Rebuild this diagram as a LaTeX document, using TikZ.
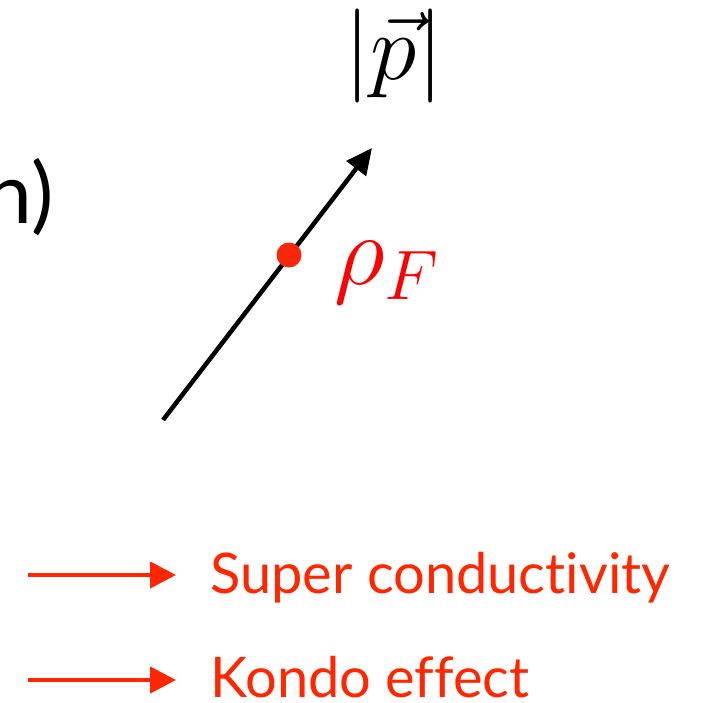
\RequirePackage{fix-cm}
\documentclass[tikz,border=0pt]{standalone}
\usepackage{fontspec}
\setsansfont[Ligatures=NoCommon]{Lato}
\usetikzlibrary{arrows.meta}
\definecolor{myred}{RGB}{255,38,0}
\definecolor{dotred}{RGB}{250,40,10}
\begin{document}
\begin{tikzpicture}[x=1pt,y=-1pt,
  lbl/.style={font=\sffamily\fontsize{56}{60}\selectfont, text=myred, anchor=base west, inner sep=0pt},
  redarrow/.style={draw=myred, line width=4.5pt, -{Triangle[length=26pt,width=26pt]}},
  blkarrow/.style={draw=black, line width=4.5pt, -{Triangle[length=26pt,width=24pt]}}]
\useasboundingbox (0,0) rectangle (703,703);
% partial label
\node[font=\sffamily\fontsize{84}{90}\selectfont, anchor=base east, inner sep=0pt] (nlbl) at (54,223) {n)};
% |p|
\node[font=\fontsize{94}{100}\selectfont, anchor=base, inner sep=0pt] (pabs) at (394,80) {$|\vec{p}|$};
% momentum arrow
\coordinate (s) at (163,420);
\coordinate (e) at (372,148);
\draw[blkarrow] (s) -- (e);
\node[circle, fill=dotred, inner sep=0pt, minimum size=25pt] (dot) at (289,255) {};
\node[font=\fontsize{100}{104}\selectfont, text=red, anchor=base west, inner sep=0pt] (rho) at (334,284) {$\rho_F$};
% consequences
\coordinate (a1s) at (28,575);
\coordinate (a1e) at (176,575);
\draw[redarrow] (a1s) -- (a1e);
\node[lbl] (sc) at (210,593) {Super conductivity};
\coordinate (a2s) at (28,680);
\coordinate (a2e) at (176,680);
\draw[redarrow] (a2s) -- (a2e);
\node[lbl] (ko) at (210,697) {Kondo effect};
\end{tikzpicture}
\end{document}
